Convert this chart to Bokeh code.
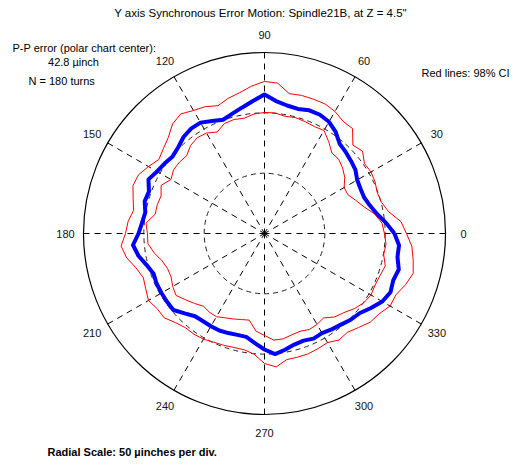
import numpy as np
from bokeh.plotting import figure
from bokeh.models import Range1d, Label
from bokeh.embed import file_html
from bokeh.resources import INLINE

# ---------------- data (µinch, polar, angle in degrees) ----------------
angles_deg = list(range(0, 360, 5))

mean_error = [107.7, 101.1, 94.5, 90.3, 87.8, 87.8, 88.7, 92.0, 93.6, 95.3,
              97.0, 102.8, 106.9, 108.6, 108.6, 106.9, 107.7, 110.2, 115.2, 110.2,
              106.1, 102.8, 100.3, 102.8, 106.1, 106.1, 104.4, 101.1, 99.4, 101.1,
              102.8, 106.1, 101.9, 102.8, 100.3, 101.9, 104.4, 109.4, 106.1, 101.1,
              97.8, 98.6, 98.6, 98.6, 98.6, 93.6, 89.5, 88.7, 88.7, 88.7,
              87.8, 87.0, 87.0, 91.2, 96.1, 100.3, 97.8, 95.3, 94.5, 96.1,
              95.3, 97.0, 98.6, 101.1, 102.8, 107.7, 112.7, 115.2, 113.5, 115.2,
              111.9, 111.9]

upper_ci = [117.7, 113.5, 104.4, 100.3, 99.4, 101.1, 101.9, 101.1, 106.1, 103.6,
            113.5, 113.5, 116.8, 118.5, 118.5, 118.5, 117.7, 125.1, 126.0, 122.6,
            118.5, 116.0, 112.7, 116.0, 117.7, 121.0, 118.5, 112.7, 109.4, 106.9,
            111.0, 115.2, 116.0, 112.7, 110.2, 113.5, 115.2, 119.3, 116.0, 110.2,
            106.9, 108.6, 111.0, 108.6, 108.6, 104.4, 101.9, 101.9, 101.1, 99.4,
            98.6, 97.8, 97.8, 100.3, 107.7, 111.0, 106.1, 106.1, 106.1, 105.2,
            104.4, 107.7, 106.9, 110.2, 114.4, 116.0, 120.2, 120.2, 124.3, 127.6,
            125.1, 122.6]

lower_ci = [99.4, 97.8, 92.8, 85.4, 80.4, 76.2, 76.2, 81.2, 84.5, 87.0,
            87.0, 92.8, 98.6, 97.8, 98.6, 99.4, 98.6, 100.3, 100.3, 99.4,
            97.0, 97.8, 97.0, 92.8, 96.1, 97.0, 95.3, 91.2, 92.0, 92.0,
            89.5, 94.5, 91.2, 92.0, 92.0, 98.6, 97.0, 97.0, 92.8, 87.8,
            85.4, 85.4, 87.8, 89.5, 85.4, 82.0, 78.7, 79.6, 79.6, 77.1,
            75.4, 73.8, 72.9, 81.2, 84.5, 88.7, 88.7, 87.0, 86.2, 87.8,
            87.0, 85.4, 90.3, 92.8, 97.0, 100.3, 101.9, 101.1, 101.9, 103.6,
            100.3, 101.1]

grid_radii = [50, 100]          # µinch, dashed rings (50 µinch per div)
outer_radius = 150              # µinch, solid outer ring
spoke_angles = list(range(0, 360, 30))
spoke_labels = [str(a) for a in spoke_angles]

title = 'Y axis Synchronous Error Motion: Spindle21B, at Z = 4.5"'
pp_text = ["P-P error (polar chart center):", "42.8 \u00b5inch", "N = 180 turns"]
ci_text = "Red lines: 98% CI"
scale_text = "Radial Scale: 50 \u00b5inches per div."

# ---------------- layout ----------------
W, H = 524, 458
CX, CY = 264, 233               # polar centre inside the canvas (px)
K = 181.0 / outer_radius        # px per µinch
FONT = "Liberation Sans"

p = figure(width=W, height=H, x_range=Range1d(-CX, W - CX),
           y_range=Range1d(-(H - CY), CY), output_backend="svg",
           toolbar_location=None, min_border=0,
           x_axis_type=None, y_axis_type=None)
p.grid.visible = False
p.outline_line_color = None
p.background_fill_color = "white"
p.border_fill_color = "white"

# rings
p.circle(x=[0] * len(grid_radii), y=[0] * len(grid_radii),
         radius=[r * K for r in grid_radii], fill_color=None,
         line_color="#222222", line_width=1, line_dash="5 4")
p.circle(x=[0], y=[0], radius=[outer_radius * K], fill_color=None,
         line_color="black", line_width=1.2)

# spokes (drawn from the rim inwards)
th = np.deg2rad(spoke_angles)
p.segment(x0=outer_radius * K * np.cos(th), y0=outer_radius * K * np.sin(th),
          x1=np.zeros(len(th)), y1=np.zeros(len(th)),
          line_color="black", line_width=1, line_dash="6 5")

def polar_xy(r_list):
    a = np.deg2rad(np.array(angles_deg + [angles_deg[0]], dtype=float))
    r = np.array(list(r_list) + [r_list[0]], dtype=float) * K
    return r * np.cos(a), r * np.sin(a)

xu, yu = polar_xy(upper_ci)
xl, yl = polar_xy(lower_ci)
xm, ym = polar_xy(mean_error)
p.line(xu, yu, line_color="#ff0000", line_width=1)
p.line(xl, yl, line_color="#ff0000", line_width=1)
p.line(xm, ym, line_color="#0000ff", line_width=4, line_join="round")

# angle labels
LR = 199
for a, t in zip(spoke_angles, spoke_labels):
    ar = np.deg2rad(a)
    p.add_layout(Label(x=LR * np.cos(ar), y=LR * np.sin(ar), text=t,
                       text_align="center", text_baseline="middle",
                       text_font=FONT, text_font_size="11px", text_color="#111111"))

def lab(x, y, text, align="left", bold=False, size="11px"):
    p.add_layout(Label(x=x, y=y, text=text, text_align=align,
                       text_baseline="middle", text_font=FONT,
                       text_font_size=size, text_color="black",
                       text_font_style="bold" if bold else "normal"))

# positions in px relative to polar centre
lab(-4, 221, title, align="center", size="11.5px")
lab(-252, 186, pp_text[0])
lab(-191, 172, pp_text[1], align="center")
lab(-236, 153, pp_text[2])
lab(157, 161, ci_text)
lab(-217, -218, scale_text, bold=True)

open("out.html", "w").write(file_html(p, INLINE))
